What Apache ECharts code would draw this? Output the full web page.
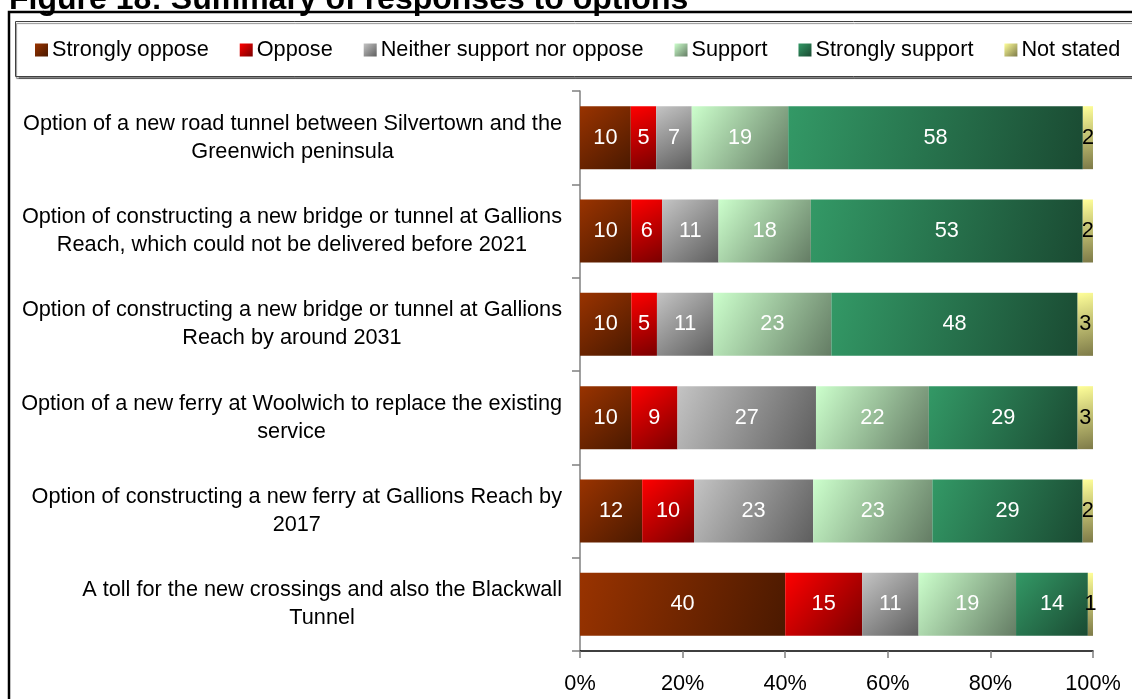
<!DOCTYPE html>
<html>
<head>
<meta charset="utf-8">
<title>Summary of responses to options</title>
<script src="https://cdn.jsdelivr.net/npm/echarts@6/dist/echarts.min.js"></script>
<style>
  html, body { margin: 0; padding: 0; background: #ffffff; }
  #chart { width: 1132px; height: 699px; }
</style>
</head>
<body>
<div id="chart"></div>
<script>
// Options put to respondents, top to bottom
const categories = [
  'Option of a new road tunnel between Silvertown and the\nGreenwich peninsula',
  'Option of constructing a new bridge or tunnel at Gallions\nReach, which could not be delivered before 2021',
  'Option of constructing a new bridge or tunnel at Gallions\nReach by around 2031',
  'Option of a new ferry at Woolwich to replace the existing\nservice',
  'Option of constructing a new ferry at Gallions Reach by\n2017',
  'A toll for the new crossings and also the Blackwall\nTunnel'
];

// Response shares (%) per option
const stronglyOppose  = [10, 10, 10, 10, 12, 40];
const oppose          = [5, 6, 5, 9, 10, 15];
const neither         = [7, 11, 11, 27, 23, 11];
const support         = [19, 18, 23, 22, 23, 19];
const stronglySupport = [58, 53, 48, 29, 29, 14];
const notStated       = [2, 2, 3, 3, 2, 1];

const xTicks = [0, 20, 40, 60, 80, 100];

const FONT = '"Liberation Sans", Arial, Helvetica, sans-serif';
const FS = 21.7;

const seriesDefs = [
  { name: 'Strongly oppose', values: stronglyOppose, c1: '#993300', c2: '#4a1900', label: '#ffffff' },
  { name: 'Oppose', values: oppose, c1: '#ff0000', c2: '#7a0000', label: '#ffffff' },
  { name: 'Neither support nor oppose', values: neither, c1: '#c4c4c4', c2: '#5e5e5e', label: '#ffffff' },
  { name: 'Support', values: support, c1: '#ccffcc', c2: '#647c64', label: '#ffffff' },
  { name: 'Strongly support', values: stronglySupport, c1: '#339966', c2: '#1a4a32', label: '#ffffff' },
  { name: 'Not stated', values: notStated, c1: '#ffff99', c2: '#7d7a48', label: '#000000' }
];

// Each bar is drawn as a 100% stack of its responses
const totals = categories.map((_, i) =>
  seriesDefs.reduce((s, d) => s + d.values[i], 0));

function grad(c1, c2) {
  return new echarts.graphic.LinearGradient(0, 0, 1, 1, [
    { offset: 0, color: c1 },
    { offset: 1, color: c2 }
  ]);
}

const series = seriesDefs.map(d => ({
  name: d.name,
  type: 'bar',
  stack: 'all',
  barCategoryGap: '32.5%',
  data: d.values.map((v, i) => v / totals[i] * 100),
  itemStyle: { color: grad(d.c1, d.c2) },
  label: {
    show: true,
    position: 'inside',
    color: d.label,
    fontFamily: FONT,
    fontSize: FS,
    formatter: p => String(d.values[p.dataIndex])
  },
  emphasis: { disabled: true },
  animation: false
}));

const chart = echarts.init(document.getElementById('chart'), null, { renderer: 'canvas' });

chart.setOption({
  animation: false,
  textStyle: { fontFamily: FONT },
  graphic: [
    {
      type: 'rect',
      z: 0,
      shape: { x: 9, y: 12, width: 1140, height: 700 },
      style: { fill: 'none', stroke: '#000000', lineWidth: 2.5 }
    },
    {
      type: 'rect',
      z: 0,
      shape: { x: 15.5, y: 21.5, width: 1130, height: 55 },
      style: {
        fill: '#ffffff', stroke: '#404040', lineWidth: 1,
        shadowColor: 'rgba(0,0,0,0.45)', shadowOffsetX: 1, shadowOffsetY: 2, shadowBlur: 1
      }
    },
    {
      type: 'text',
      z: 10,
      style: {
        x: 9, y: 0,
        text: 'Figure 18: Summary of responses to options',
        font: 'bold 32px ' + FONT,
        fill: '#000000',
        verticalAlign: 'middle',
        align: 'left'
      }
    }
  ],
  legend: {
    left: 35,
    top: 39,
    padding: 0,
    itemWidth: 13,
    itemHeight: 13,
    itemGap: 31,
    icon: 'rect',
    selectedMode: false,
    textStyle: { fontFamily: FONT, fontSize: FS, color: '#000000', lineHeight: 22, padding: [0, 0, 0, -1] },
    data: seriesDefs.map(d => d.name)
  },
  grid: { left: 580, right: 39, top: 91, bottom: 48, containLabel: false },
  xAxis: {
    type: 'value',
    min: 0,
    max: 100,
    interval: 20,
    axisLine: { show: true, lineStyle: { color: '#000000', width: 1.5 } },
    axisTick: { show: true, length: 7, lineStyle: { color: '#808080', width: 1.5 } },
    splitLine: { show: false },
    axisLabel: {
      margin: 22,
      fontFamily: FONT,
      fontSize: FS,
      color: '#000000',
      formatter: v => xTicks.includes(v) ? v + '%' : ''
    }
  },
  yAxis: {
    type: 'category',
    inverse: true,
    data: categories,
    axisLine: { show: true, lineStyle: { color: '#808080', width: 1.5 } },
    axisTick: { show: true, length: 8, lineStyle: { color: '#808080', width: 1.5 } },
    axisLabel: {
      margin: 18,
      formatter: v => v.split('\n').map(line => '{c|' + line + '}').join('\n'),
      rich: {
        c: { align: 'center', fontFamily: FONT, fontSize: FS, lineHeight: 28, color: '#000000' }
      }
    }
  },
  series: series
});
</script>
</body>
</html>
